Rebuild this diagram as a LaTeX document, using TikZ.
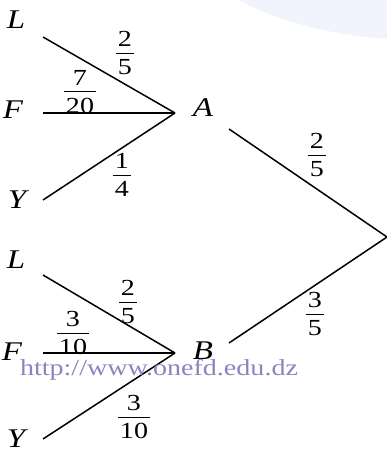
\documentclass[tikz,border=0pt]{standalone}
\usepackage{amsmath}
\usepackage{fontspec}
\setmainfont{Liberation Serif}[FakeStretch=1.22]
\usepackage{tikz}
\usetikzlibrary{
	calc,
	positioning,
	backgrounds
}
\definecolor{wmtext}{RGB}{135,135,190}
\definecolor{wmbg}{RGB}{242,244,253}
\newcommand{\pfrac}[2]{$\genfrac{}{}{}{1}{\mbox{\rule[-5pt]{0pt}{5pt}\hspace{2pt}#1\hspace{2pt}}}{\mbox{\rule{0pt}{20pt}\hspace{2pt}#2\hspace{2pt}}}$}

\begin{document}
\begin{tikzpicture}[x=1pt, y=-1pt,
		branch/.style={line width=1.5pt, black},
		leaf/.style={inner sep=0pt, font=\fontsize{27}{31}\selectfont\itshape},
		prob/.style={inner sep=0pt, font=\fontsize{23}{27}\selectfont}]
		\useasboundingbox (0,0) rectangle (387,453);
		
		% fond
		\fill[wmbg] (420,-100) ellipse (260 and 140);
		
		% premier arbre
		\coordinate (l1) at (43,37);
		\coordinate (f1) at (43,113);
		\coordinate (y1) at (43,200);
		\coordinate (a) at (175,113);
		\node[leaf] (L1) at (16,20) {L};
		\node[leaf] (F1) at (13,110) {F};
		\node[leaf] (Y1) at (17,200) {Y};
		\node[leaf] (A) at (203,108) {A};
		\draw[branch] (l1) -- (a);
		\draw[branch] (f1) -- (a);
		\draw[branch] (y1) -- (a);
		\node[prob] (pl1) at (125,53) {\pfrac{2}{5}};
		\node[prob] (pf1) at (80,92) {\pfrac{7}{20}};
		\node[prob] (py1) at (122,175) {\pfrac{1}{4}};
		
		% second arbre
		\coordinate (l2) at (43,275);
		\coordinate (f2) at (43,353);
		\coordinate (y2) at (43,439);
		\coordinate (b) at (175,353);
		\node[leaf] (L2) at (16,260) {L};
		\node[leaf] (F2) at (12,352) {F};
		\node[leaf] (Y2) at (16,439) {Y};
		\node[leaf] (B) at (203,351) {B};
		\draw[branch] (l2) -- (b);
		\draw[branch] (f2) -- (b);
		\draw[branch] (y2) -- (b);
		\node[prob] (pl2) at (128,302) {\pfrac{2}{5}};
		\node[prob] (pf2) at (73,333) {\pfrac{3}{10}};
		\node[prob] (py2) at (134,417) {\pfrac{3}{10}};
		
		% racine
		\coordinate (ao) at (229,129);
		\coordinate (bo) at (229,343);
		\coordinate (root) at (387,237);
		\draw[branch] (ao) -- (root);
		\draw[branch] (bo) -- (root);
		\node[prob] (pa) at (317,155) {\pfrac{2}{5}};
		\node[prob] (pb) at (315,314) {\pfrac{3}{5}};
		
		% filigrane
		\node[anchor=base, inner sep=0pt, text=wmtext, font=\fontsize{23}{27}\selectfont] (wm) at (159,375) {http://www.onefd.edu.dz};
	\end{tikzpicture}
\end{document}
